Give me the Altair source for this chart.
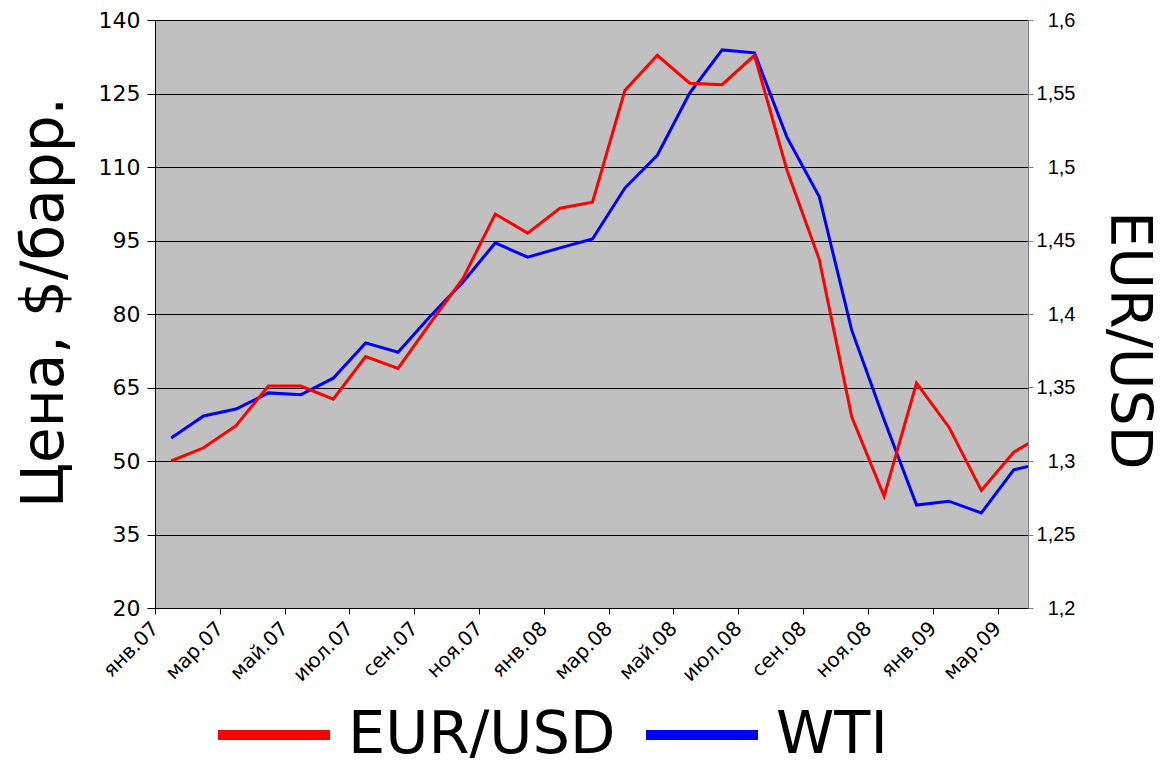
import json
import altair as alt
import pandas as pd

# Monthly categories (Jan 2007 .. Apr 2009)
months = ["янв.07", "фев.07", "мар.07", "апр.07", "май.07", "июн.07", "июл.07", "авг.07",
          "сен.07", "окт.07", "ноя.07", "дек.07", "янв.08", "фев.08", "мар.08", "апр.08",
          "май.08", "июн.08", "июл.08", "авг.08", "сен.08", "окт.08", "ноя.08", "дек.08",
          "янв.09", "фев.09", "мар.09", "апр.09"]

# Axis tick labels (every second month)
tick_labels = ["янв.07", "мар.07", "май.07", "июл.07", "сен.07", "ноя.07", "янв.08",
               "мар.08", "май.08", "июл.08", "сен.08", "ноя.08", "янв.09", "мар.09"]

# WTI, $/bbl (left axis)
wti = [54.7, 59.2, 60.6, 63.9, 63.5, 66.9, 74.1, 72.2, 79.6, 86.5, 94.5, 91.6, 93.5, 95.3,
       105.7, 112.4, 125.1, 133.9, 133.3, 116.1, 103.9, 76.7, 58.4, 41.0, 41.8, 39.4, 48.2, 49.7]

# EUR/USD (right axis)
eurusd = [1.300, 1.309, 1.324, 1.351, 1.351, 1.342, 1.371, 1.363, 1.394, 1.424, 1.468, 1.455,
          1.472, 1.476, 1.552, 1.576, 1.557, 1.556, 1.576, 1.498, 1.437, 1.330, 1.276, 1.353,
          1.323, 1.280, 1.306, 1.319]

left_ticks = [20, 35, 50, 65, 80, 95, 110, 125, 140]
right_ticks = [1.2, 1.25, 1.3, 1.35, 1.4, 1.45, 1.5, 1.55, 1.6]
series_names = ["EUR/USD", "WTI"]
series_colors = ["#ff0000", "#0000ff"]

df = pd.DataFrame({"month": months, "idx": list(range(len(months))), "wti": wti, "eur": eurusd})

label_expr = json.dumps(tick_labels, ensure_ascii=False) + "[round(datum.value / 2)]"

x_enc = alt.X(
    "pos:Q",
    scale=alt.Scale(domain=[0, 26.94], nice=False, zero=False),
    axis=alt.Axis(
        values=list(range(0, 27, 2)),
        labelExpr=label_expr,
        labelAngle=-45,
        labelAlign="right",
        labelBaseline="middle",
        labelPadding=11,
        labelFontSize=20,
        labelFont="DejaVu Sans",
        labelColor="#000000",
        labelOverlap=False,
        labelFlush=False,
        labelBound=False,
        tickSize=6,
        tickColor="#000000",
        domainColor="#000000",
        grid=False,
        title=None,
    ),
)

color_scale = alt.Scale(domain=series_names, range=series_colors)
legend = alt.Legend(
    orient="none",
    legendX=58,
    legendY=654,
    direction="horizontal",
    title=None,
    symbolType="stroke",
    symbolSize=12544,
    symbolStrokeWidth=10,
    labelFontSize=59,
    labelFont="DejaVu Sans",
    labelColor="#000000",
    labelOffset=13,
    columnPadding=10,
    labelLimit=400,
)

base = alt.Chart(df).transform_calculate(pos="datum.idx + 0.5")

wti_line = base.transform_calculate(series="'" + series_names[1] + "'").mark_line(
    strokeWidth=3, clip=True
).encode(
    x=x_enc,
    y=alt.Y(
        "wti:Q",
        scale=alt.Scale(domain=[20, 140], nice=False, zero=False),
        axis=alt.Axis(
            values=left_ticks,
            grid=True,
            gridColor="#000000",
            gridWidth=1,
            tickSize=8,
            tickColor="#000000",
            domainColor="#000000",
            labelFontSize=22,
            labelFont="DejaVu Sans",
            labelColor="#000000",
            labelPadding=7,
            title="Цена, $/барр.",
            titleFont="DejaVu Sans",
            titleFontSize=58,
            titleFontWeight="normal",
            titleColor="#000000",
            titleAngle=270,
            titleAlign="center",
            titleBaseline="middle",
            titleX=-110,
            titleY=282,
        ),
    ),
    color=alt.Color("series:N", scale=color_scale, legend=legend),
)

eur_line = base.transform_calculate(series="'" + series_names[0] + "'").mark_line(
    strokeWidth=3, clip=True
).encode(
    x=x_enc,
    y=alt.Y(
        "eur:Q",
        scale=alt.Scale(domain=[1.2, 1.6], nice=False, zero=False),
        axis=alt.Axis(
            orient="right",
            values=right_ticks,
            labelExpr="replace(format(datum.value, '.2~f'), '.', ',')",
            grid=False,
            domain=False,
            tickSize=5,
            tickColor="#808080",
            labelAlign="right",
            labelPadding=42,
            labelFontSize=20,
            labelFont="Liberation Sans",
            labelColor="#000000",
            title="EUR/USD",
            titleFont="DejaVu Sans",
            titleFontSize=57,
            titleFontWeight="normal",
            titleColor="#000000",
            titleAngle=90,
            titleAlign="center",
            titleBaseline="middle",
            titleX=99,
            titleY=320,
        ),
    ),
    color=alt.Color("series:N", scale=color_scale, legend=legend),
)

chart = (
    alt.layer(wti_line, eur_line)
    .resolve_scale(y="independent")
    .properties(
        width=873,
        height=588,
        autosize=alt.AutoSizeParams(type="none"),
        padding={"left": 147, "top": 12, "right": 129, "bottom": 154},
    )
    .configure(font="DejaVu Sans", background="#ffffff")
    .configure_view(fill="#c0c0c0", stroke="#808080", strokeWidth=1)
)

chart.save("out.html", embed_options={"renderer": "svg", "actions": False})
